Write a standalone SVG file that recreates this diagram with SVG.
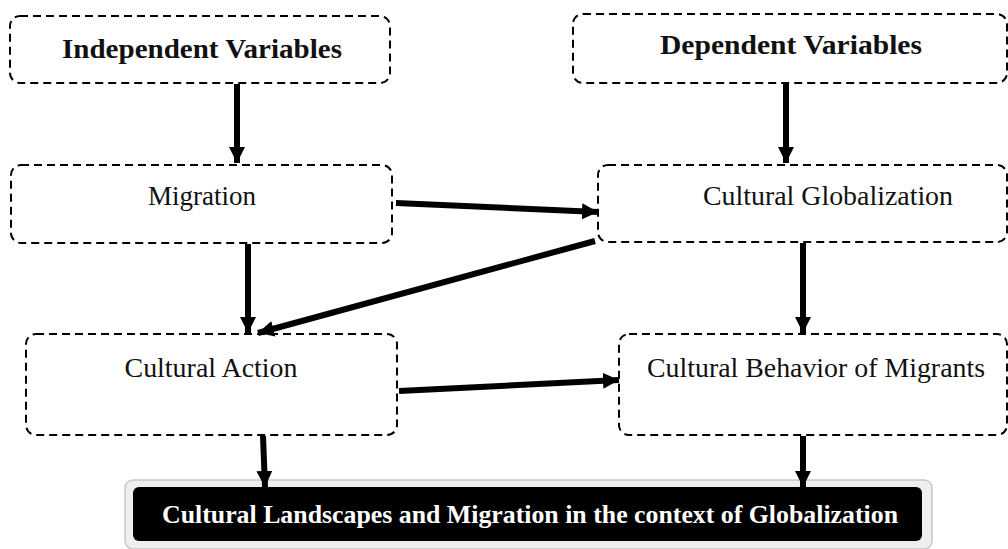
<svg xmlns="http://www.w3.org/2000/svg" width="1008" height="549" viewBox="0 0 1008 549">
<style>
.box{fill:#fff;stroke:#000;stroke-width:2;stroke-dasharray:8 5}
.t{font-family:"Liberation Serif","Times New Roman",serif;font-size:27px;fill:#111;text-anchor:middle}
.b{font-weight:bold;font-size:27px}
.w{fill:#fff;font-size:26px}
.c{stroke:#000;stroke-width:6;fill:none}
</style>
<defs>
<marker id="ah" markerUnits="userSpaceOnUse" markerWidth="18" markerHeight="18" viewBox="0 0 18 18" refX="16" refY="9" orient="auto">
<path d="M0,1 L16,9 L0,17 Z" fill="#000"/>
</marker>
</defs>
<g id="n-indep"><rect class="box" x="10" y="16" width="380" height="67" rx="10"/><text class="t b" x="202" y="58" textLength="280" lengthAdjust="spacingAndGlyphs">Independent Variables</text></g>
<g id="n-dep"><rect class="box" x="573" y="14" width="434" height="69" rx="10"/><text class="t b" x="791" y="54" textLength="262" lengthAdjust="spacingAndGlyphs">Dependent Variables</text></g>
<g id="n-migration"><rect class="box" x="11" y="165" width="381" height="78" rx="10"/><text class="t" x="202" y="205">Migration</text></g>
<g id="n-globalization"><rect class="box" x="598" y="165" width="409" height="77" rx="10"/><text class="t" x="828" y="205" textLength="250" lengthAdjust="spacingAndGlyphs">Cultural Globalization</text></g>
<g id="n-action"><rect class="box" x="26" y="334" width="371" height="101" rx="10"/><text class="t" x="211" y="377" textLength="173" lengthAdjust="spacingAndGlyphs">Cultural Action</text></g>
<g id="n-behavior"><rect class="box" x="619" y="334" width="388" height="101" rx="10"/><text class="t" x="816" y="377" textLength="338" lengthAdjust="spacingAndGlyphs">Cultural Behavior of Migrants</text></g>
<g id="n-result"><rect x="125" y="480" width="807" height="69" rx="8" fill="#efefef" stroke="#c8c8c8" stroke-width="1.5"/><rect x="133" y="487" width="789" height="54" rx="6" fill="#000"/><text class="t b w" x="530" y="523" textLength="736" lengthAdjust="spacingAndGlyphs">Cultural Landscapes and Migration in the context of Globalization</text></g>
<g id="connectors">
<line class="c" x1="237" y1="84" x2="237" y2="163" marker-end="url(#ah)"/>
<line class="c" x1="786" y1="84" x2="786" y2="163" marker-end="url(#ah)"/>
<line class="c" x1="248" y1="244" x2="248" y2="333" marker-end="url(#ah)"/>
<line class="c" x1="396" y1="203" x2="598" y2="212" marker-end="url(#ah)"/>
<line class="c" x1="595" y1="241" x2="258" y2="333" marker-end="url(#ah)"/>
<line class="c" x1="803" y1="243" x2="803" y2="333" marker-end="url(#ah)"/>
<line class="c" x1="399" y1="391" x2="619" y2="380" marker-end="url(#ah)"/>
<line class="c" x1="263" y1="436" x2="265" y2="487" marker-end="url(#ah)"/>
<line class="c" x1="803" y1="436" x2="803" y2="487" marker-end="url(#ah)"/>
</g>
</svg>
